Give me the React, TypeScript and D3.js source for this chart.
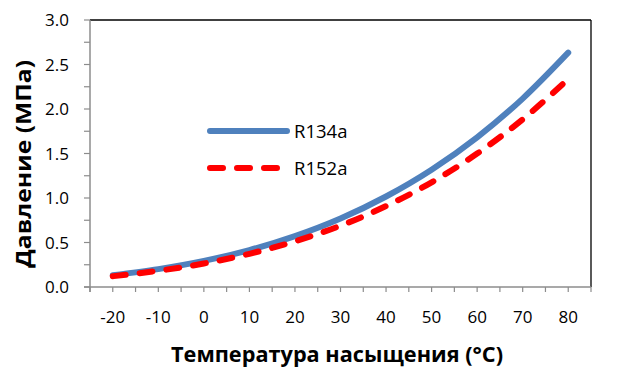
import React from "react";
import * as d3 from "d3";

const temps = [-20, -10, 0, 10, 20, 30, 40, 50, 60, 70, 80];
const r134a = [0.133, 0.201, 0.293, 0.415, 0.572, 0.770, 1.017, 1.318, 1.682, 2.117, 2.633];
const r152a = [0.121, 0.182, 0.264, 0.373, 0.513, 0.689, 0.909, 1.176, 1.499, 1.884, 2.337];
const xTickLabels = [-20, -10, 0, 10, 20, 30, 40, 50, 60, 70, 80];
const yTickLabels = [0, 0.5, 1.0, 1.5, 2.0, 2.5, 3.0];
const seriesNames = ["R134a", "R152a"];

const W = 636, H = 388;
const L = 90, R = 591, T = 20, B = 287;

export default function App() {
  const x = d3.scaleLinear().domain([-25, 85]).range([L, R]);
  const y = d3.scaleLinear().domain([0, 3]).range([B, T]);
  const line = d3.line<number>().x((_, i) => x(temps[i])).y((d) => y(d)).curve(d3.curveMonotoneX);
  const xMinor = d3.range(-25, 85.01, 5);
  const yMinor = d3.range(0, 3.001, 0.25);
  const font = "Open Sans, sans-serif";
  const txt = "#000";
  return (
    <svg width={W} height={H} style={{ position: "absolute", left: 0, top: 0, background: "#fff" }}>
      <rect x={0} y={0} width={W} height={H} fill="#fff" />
      {/* plot border */}
      <line x1={L} x2={R} y1={T} y2={T} stroke="#000" strokeWidth={1.3} />
      <line x1={R} x2={R} y1={T} y2={B} stroke="#000" strokeWidth={1.3} />
      {/* axes */}
      <line x1={L} x2={L} y1={T} y2={B + 5} stroke="#8c8c8c" strokeWidth={1.5} />
      <line x1={L - 6} x2={R} y1={B} y2={B} stroke="#8c8c8c" strokeWidth={1.5} />
      {yMinor.map((v) => (
        <line key={"yt" + v} x1={L - 6} x2={L} y1={y(v)} y2={y(v)} stroke="#8c8c8c" strokeWidth={1.2} />
      ))}
      {xMinor.map((v) => (
        <line key={"xt" + v} x1={x(v)} x2={x(v)} y1={B} y2={B + 5} stroke="#8c8c8c" strokeWidth={1.2} />
      ))}
      {yTickLabels.map((v) => (
        <text key={"yl" + v} x={69} y={y(v)} dy="0.36em" textAnchor="end" fontFamily={font} fontSize={17} fill={txt}>
          {v.toFixed(1)}
        </text>
      ))}
      {xTickLabels.map((v) => (
        <text key={"xl" + v} x={x(v)} y={317} dy="0.36em" textAnchor="middle" fontFamily={font} fontSize={17} fill={txt}>
          {v}
        </text>
      ))}
      <path d={line(r134a) || ""} fill="none" stroke="#4F81BD" strokeWidth={6} strokeLinecap="round" strokeLinejoin="round" />
      <path d={line(r152a) || ""} fill="none" stroke="#FF0000" strokeWidth={6} strokeLinecap="round" strokeDasharray="13 14" />
      {/* legend */}
      <line x1={210} x2={287} y1={131} y2={131} stroke="#4F81BD" strokeWidth={6} strokeLinecap="round" />
      <line x1={210} x2={281} y1={168} y2={168} stroke="#FF0000" strokeWidth={6} strokeLinecap="round" strokeDasharray="13 14" />
      <text x={294} y={131} dy="0.36em" fontFamily={font} fontSize={18.5} fill={txt}>{seriesNames[0]}</text>
      <text x={294} y={168} dy="0.36em" fontFamily={font} fontSize={18.5} fill={txt}>{seriesNames[1]}</text>
      {/* titles */}
      <text x={337} y={354} dy="0.36em" textAnchor="middle" fontFamily={font} fontWeight="bold" fontSize={21} fill={txt}
        textLength={332} lengthAdjust="spacingAndGlyphs">
        Температура насыщения (°C)
      </text>
      <text transform={`translate(23,164) rotate(-90)`} dy="0.36em" textAnchor="middle" fontFamily={font} fontWeight="bold" fontSize={21} fill={txt}
        textLength={208} lengthAdjust="spacingAndGlyphs">
        Давление (МПа)
      </text>
    </svg>
  );
}
